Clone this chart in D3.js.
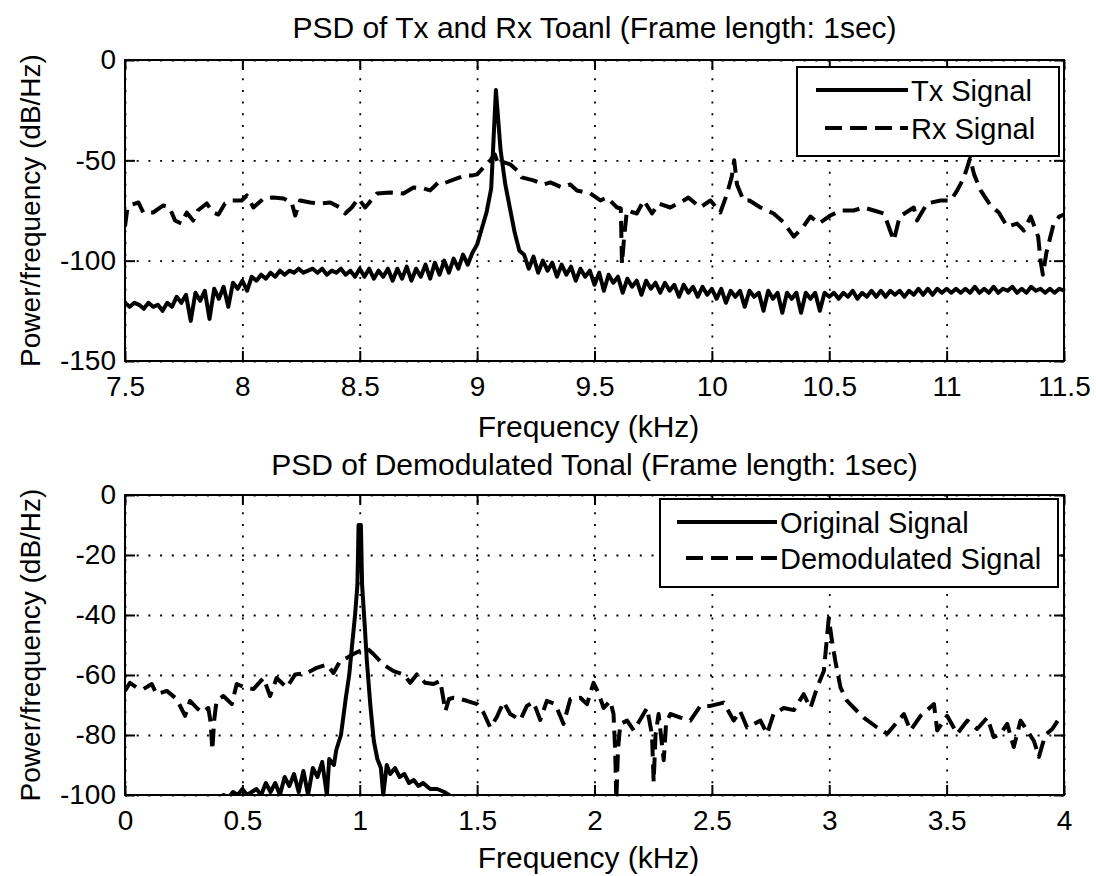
<!DOCTYPE html>
<html>
<head>
<meta charset="utf-8">
<script src="https://cdn.jsdelivr.net/npm/d3@7"></script>
<style>
  html, body { margin: 0; padding: 0; background: #fff; }
  svg text { font-family: "Liberation Sans", Arial, Helvetica, sans-serif; fill: #000; }
</style>
</head>
<body>
<svg id="chart" width="1096" height="876"></svg>
<script>
// ---------- Panel 1: PSD of transmitted / received tonal (kHz, dB/Hz) ----------
const txStart = 7.5;   // first Tx bin (kHz)
const txStep = 0.02;   // Tx bin spacing (kHz)
const txValues = [
  -121,-123,-121,-122,-124,-121,-123,-122,-125,-121,-123,
  -118,-121,-117,-130,-116,-120,-115,-129,-114,-119,-113,-123,-111,-114,
  -110,-115,-108,-110,-107,-109,-106,-108,-105,-107,-105,
  -106,-104,-106,-105,-104,-106,-104,-107,-105,-106,-104,-107,-105,-108,-104,
  -108,-104,-109,-105,-108,-104,-110,-104,-109,-103,-110,-104,-108,-102,-109,-101,-107,-100,-106,-99,
  -104,-97,-102,-96,-92,
  -84,-76,-64,-15,-45,-62,-74,-86,-95,
  -97,-104,-98,-106,-100,-105,-101,-108,-102,-107,-103,-110,-104,-108,-105,-112,-106,-115,-107,-111,-108,
  -116,-109,-113,-110,-117,-110,-114,-111,-116,-111,-115,-112,-118,-112,-116,-113,-118,-113,-117,-114,-119,-114,-121,-115,-118,
  -115,-123,-115,-118,-116,-125,-115,-119,-116,-126,-116,-119,-116,-126,-116,-119,-116,-125,-116,-118,
  -116,-119,-116,-118,-115,-119,-116,-118,-115,-118,-115,-118,-115,-117,-115,-118,-115,-117,-114,-117,-114,-117,-114,-116,-114,
  -116,-114,-116,-114,-116,-113,-116,-114,-116,-113,-116,-114,-115,-113,-116,-114,-116,-113,-115,-114,-116,-114,-116,-114,-115
];

const rxFreq = [
  7.50,7.51,7.53,7.557,7.578,7.62,7.663,7.69,7.713,7.74,7.763,7.79,7.81,7.848,7.876,7.898,7.926,7.955,7.997,8.019,
  8.047,8.09,8.132,8.175,8.21,8.225,8.246,8.289,8.33,8.374,8.416,8.438,8.466,8.494,8.523,8.573,8.63,8.686,8.729,8.772,
  8.80,8.835,8.857,8.914,8.95,8.98,9.0,9.027,9.056,9.075,9.09,9.115,9.141,9.17,9.19,9.24,9.283,9.312,9.36,9.397,
  9.425,9.482,9.525,9.553,9.596,9.612,9.617,9.625,9.638,9.68,9.71,9.745,9.773,9.823,9.88,9.90,9.95,9.994,10.036,10.065,
  10.085,10.095,10.107,10.135,10.16,10.207,10.263,10.306,10.349,10.39,10.42,10.455,10.505,10.548,10.604,10.647,10.69,10.733,10.775,10.80,
  10.86,10.874,10.917,10.974,11.017,11.045,11.074,11.10,11.117,11.145,11.187,11.222,11.258,11.30,11.329,11.358,11.39,11.40,11.41,11.425,
  11.455,11.48,11.50
];
const rxValues = [
  -83,-74,-72,-71,-76,-76,-72.5,-73.5,-80,-81.5,-76,-80,-75,-71.5,-76,-77,-71.5,-70,-70,-67.5,
  -73.5,-69,-68.5,-69,-71,-77.5,-70,-71,-71.5,-71,-73.5,-76.5,-73.5,-69,-73.5,-66.5,-66,-66.5,-63.5,-64,
  -65,-61,-61.5,-59,-57.5,-57.5,-57,-53.5,-50,-47,-52,-51,-52,-55,-58.5,-60,-62,-61,-63.5,-62,
  -65,-66.5,-70,-68.5,-73.5,-74,-101.5,-90,-75,-76.5,-70,-76.5,-71.5,-73.5,-70,-68.5,-73.5,-70,-76,-66.5,
  -58,-50,-62,-70,-70,-73.5,-76.5,-81,-88,-83,-78,-81.5,-77.5,-75,-75,-73.5,-75,-76.5,-90,-78,
  -73.5,-80,-71.5,-70,-70,-65,-58.5,-49,-57,-65,-72.5,-76,-83,-81.5,-85,-78,-88,-100,-107,-96,
  -82,-78,-77
];

const topXTicks = [7.5, 8, 8.5, 9, 9.5, 10, 10.5, 11, 11.5];
const topXTickLabels = ["7.5", "8", "8.5", "9", "9.5", "10", "10.5", "11", "11.5"];
const topYTicks = [-150, -100, -50, 0];
const topYTickLabels = ["-150", "-100", "-50", "0"];

// ---------- Panel 2: PSD of demodulated tonal ----------
const origFreq = [
  0.30,0.34,0.38,0.42,0.44,0.46,0.48,0.50,0.52,0.54,0.56,0.58,0.60,0.62,0.64,0.66,0.68,0.70,0.72,0.74,
  0.76,0.78,0.80,0.82,0.84,0.86,0.87,0.89,0.90,0.92,0.94,0.955,0.965,0.98,0.99,0.995,1.005,1.01,1.02,1.03,
  1.045,1.06,1.075,1.09,1.10,1.115,1.13,1.15,1.17,1.19,1.21,1.23,1.25,1.27,1.30,1.33,1.36,1.40,1.45,1.50
];
const origValues = [
  -104,-102,-103,-100,-101,-99,-100,-98,-100,-99,-98,-100,-96,-99,-96,-100,-94,-97,-93,-99,
  -92,-100,-91,-94,-89,-100,-88,-90,-85,-80,-68,-60,-52,-40,-30,-10,-10,-30,-42,-55,
  -70,-82,-88,-91,-100,-90,-93,-91,-94,-93,-96,-95,-97,-96,-98,-98,-99,-101,-103,-105
];

const demodFreq = [
  0,0.021,0.05,0.078,0.114,0.135,0.178,0.22,0.256,0.277,0.306,0.327,0.355,0.365,0.372,0.38,0.39,0.419,0.455,0.476,
  0.512,0.547,0.59,0.618,0.646,0.689,0.725,0.775,0.817,0.86,0.888,0.916,0.945,0.973,1.0,1.03,1.058,1.10,1.144,1.186,
  1.215,1.243,1.279,1.314,1.343,1.365,1.38,1.40,1.428,1.456,1.50,1.527,1.556,1.584,1.613,1.641,1.684,1.712,1.74,1.769,
  1.797,1.833,1.868,1.897,1.94,1.968,1.996,2.017,2.039,2.067,2.081,2.088,2.093,2.10,2.11,2.139,2.167,2.195,2.224,2.245,
  2.252,2.26,2.273,2.295,2.305,2.323,2.366,2.408,2.451,2.494,2.55,2.593,2.62,2.65,2.707,2.735,2.763,2.806,2.849,2.891,
  2.92,2.948,2.977,2.998,3.012,3.026,3.048,3.076,3.118,3.147,3.204,3.247,3.275,3.318,3.346,3.389,3.446,3.46,3.502,3.545,
  3.588,3.63,3.673,3.701,3.73,3.758,3.786,3.815,3.843,3.872,3.893,3.92,3.95,3.975,4.0
];
const demodValues = [
  -65.3,-62.6,-64.2,-64.7,-63,-66.4,-65.3,-68,-73.6,-68.6,-71,-72.5,-71,-76,-85,-75,-68.6,-67,-69.7,-63,
  -64.2,-64.7,-61,-67,-61,-64.2,-59.8,-59.3,-57.6,-56.5,-59.3,-55.4,-54.3,-53,-52,-51,-53,-56.5,-58.7,-59.8,
  -62.6,-59.8,-62.6,-63,-62,-72,-68,-67.6,-68,-68.6,-69.7,-72.5,-77.5,-74,-69,-73,-75,-70.3,-69,-75,
  -68.6,-69.7,-76.3,-68,-67.6,-69.7,-62.6,-66,-71,-68.6,-73,-85,-102,-85,-76.3,-75.2,-78.5,-74.8,-71,-80,
  -95.6,-80,-73,-88.4,-76,-73,-74.2,-75.2,-70.3,-70.3,-69.2,-75.2,-72,-77.5,-75.2,-79.6,-73,-71,-71.7,-66.4,
  -71,-64.2,-58.7,-41,-48.8,-55.4,-64.2,-68.6,-72,-74.2,-77.5,-79.6,-77,-73,-78.5,-73.6,-69.7,-78.5,-73.6,-79.6,
  -75.2,-78,-74.2,-80.7,-79.6,-76.3,-84,-75.2,-78.5,-82,-87.3,-80,-78,-75,-76
];

const botXTicks = [0, 0.5, 1, 1.5, 2, 2.5, 3, 3.5, 4];
const botXTickLabels = ["0", "0.5", "1", "1.5", "2", "2.5", "3", "3.5", "4"];
const botYTicks = [-100, -80, -60, -40, -20, 0];
const botYTickLabels = ["-100", "-80", "-60", "-40", "-20", "0"];

// ---------- drawing ----------
const svg = d3.select("#chart");
const defs = svg.append("defs");
const TICK_FONT = 28;
const TITLE_FONT = 30;
const LEGEND_FONT = 29;
const YLABEL_FONT = 28;
const LINE_W = 4;

function drawPanel(p) {
  const x = d3.scaleLinear().domain(p.xDomain).range([p.left, p.right]);
  const y = d3.scaleLinear().domain(p.yDomain).range([p.bottom, p.top]);
  const w = p.right - p.left, h = p.bottom - p.top;
  const g = svg.append("g");

  defs.append("clipPath").attr("id", p.id + "-clip")
    .append("rect").attr("x", p.left).attr("y", p.top).attr("width", w).attr("height", h);

  // dotted grid
  const gridX = g.append("g").attr("transform", `translate(0,${p.bottom})`)
    .call(d3.axisBottom(x).tickValues(p.xTicks).tickSize(-h).tickFormat(""));
  const gridY = g.append("g").attr("transform", `translate(${p.left},0)`)
    .call(d3.axisLeft(y).tickValues(p.yTicks).tickSize(-w).tickFormat(""));
  [gridX, gridY].forEach(a => {
    a.select(".domain").remove();
    a.selectAll("line").attr("stroke", "#000").attr("stroke-width", 1.8)
      .attr("stroke-dasharray", "2,9.7");
  });

  // data lines
  const line = d3.line().x(d => x(d[0])).y(d => y(d[1]));
  const plot = g.append("g").attr("clip-path", `url(#${p.id}-clip)`);
  p.series.forEach(s => {
    plot.append("path")
      .datum(s.points)
      .attr("d", line)
      .attr("fill", "none")
      .attr("stroke", "#000")
      .attr("stroke-width", LINE_W)
      .attr("stroke-linejoin", "round")
      .attr("stroke-dasharray", s.dashed ? "17,8" : null);
  });

  // axes with inward ticks on every side
  const axB = g.append("g").attr("transform", `translate(0,${p.bottom})`)
    .call(d3.axisBottom(x).tickValues(p.xTicks).tickSize(-10).tickPadding(15)
      .tickFormat((d, i) => p.xTickLabels[i]));
  const axT = g.append("g").attr("transform", `translate(0,${p.top})`)
    .call(d3.axisTop(x).tickValues(p.xTicks).tickSize(-10).tickFormat(""));
  const axL = g.append("g").attr("transform", `translate(${p.left},0)`)
    .call(d3.axisLeft(y).tickValues(p.yTicks).tickSize(-10).tickPadding(9)
      .tickFormat((d, i) => p.yTickLabels[i]));
  const axR = g.append("g").attr("transform", `translate(${p.right},0)`)
    .call(d3.axisRight(y).tickValues(p.yTicks).tickSize(-10).tickFormat(""));
  [axB, axT, axL, axR].forEach(a => {
    a.select(".domain").remove();
    a.selectAll("line").attr("stroke", "#000").attr("stroke-width", 2);
    a.selectAll("text").attr("font-size", TICK_FONT).attr("fill", "#000");
  });

  // frame
  g.append("rect").attr("x", p.left).attr("y", p.top).attr("width", w).attr("height", h)
    .attr("fill", "none").attr("stroke", "#000").attr("stroke-width", 2);

  // titles
  g.append("text").attr("x", (p.left + p.right) / 2).attr("y", p.titleY)
    .attr("text-anchor", "middle").attr("font-size", TITLE_FONT).text(p.title);
  g.append("text").attr("x", (p.left + p.right) / 2 - 6).attr("y", p.xLabelY)
    .attr("text-anchor", "middle").attr("font-size", TITLE_FONT).text("Frequency (kHz)");
  g.append("text")
    .attr("transform", `translate(40,${(p.top + p.bottom) / 2}) rotate(-90)`)
    .attr("text-anchor", "middle").attr("font-size", YLABEL_FONT).text("Power/frequency (dB/Hz)");

  // legend
  const L = p.legend;
  const lg = g.append("g");
  lg.append("rect").attr("x", L.x0).attr("y", L.y0).attr("width", L.x1 - L.x0).attr("height", L.y1 - L.y0)
    .attr("fill", "#fff").attr("stroke", "#000").attr("stroke-width", 2);
  L.items.forEach((it, i) => {
    const yy = L.rowY[i];
    lg.append("line").attr("x1", it.dashed ? L.lineX0 + 9 : L.lineX0).attr("x2", L.lineX1)
      .attr("y1", yy).attr("y2", yy).attr("stroke", "#000").attr("stroke-width", LINE_W)
      .attr("stroke-dasharray", it.dashed ? "17,8" : null);
    lg.append("text").attr("x", L.lineX1 + 3).attr("y", yy + 10.5)
      .attr("font-size", LEGEND_FONT).text(it.label);
  });
}

const txPoints = txValues.map((v, i) => [txStart + i * txStep, v]);
const rxPoints = rxFreq.map((f, i) => [f, rxValues[i]]);
const origPoints = origFreq.map((f, i) => [f, origValues[i]]);
const demodPoints = demodFreq.map((f, i) => [f, demodValues[i]]);

drawPanel({
  id: "p1", left: 125, right: 1064, top: 60, bottom: 361,
  xDomain: [7.5, 11.5], yDomain: [-150, 0],
  xTicks: topXTicks, xTickLabels: topXTickLabels,
  yTicks: topYTicks, yTickLabels: topYTickLabels,
  title: "PSD of Tx and Rx Toanl (Frame length: 1sec)", titleY: 38, xLabelY: 437,
  series: [{ points: txPoints, dashed: false }, { points: rxPoints, dashed: true }],
  legend: { x0: 797, x1: 1059, y0: 67, y1: 156, lineX0: 816, lineX1: 908, rowY: [90, 128],
            items: [{ label: "Tx Signal", dashed: false }, { label: "Rx Signal", dashed: true }] }
});

drawPanel({
  id: "p2", left: 125, right: 1064, top: 495, bottom: 795,
  xDomain: [0, 4], yDomain: [-100, 0],
  xTicks: botXTicks, xTickLabels: botXTickLabels,
  yTicks: botYTicks, yTickLabels: botYTickLabels,
  title: "PSD of Demodulated Tonal (Frame length: 1sec)", titleY: 475, xLabelY: 868,
  series: [{ points: origPoints, dashed: false }, { points: demodPoints, dashed: true }],
  legend: { x0: 660, x1: 1058, y0: 499, y1: 587, lineX0: 677, lineX1: 777, rowY: [522, 558],
            items: [{ label: "Original Signal", dashed: false }, { label: "Demodulated Signal", dashed: true }] }
});
</script>
</body>
</html>
